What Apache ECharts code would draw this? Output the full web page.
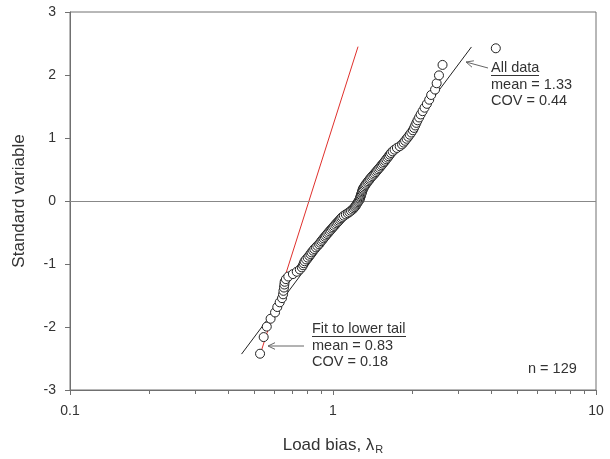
<!DOCTYPE html>
<html>
<head>
<meta charset="utf-8">
<script src="https://cdn.jsdelivr.net/npm/echarts@6/dist/echarts.min.js"></script>
<style>
  html, body { margin: 0; padding: 0; background: #fff; }
  #main { width: 610px; height: 459px; }
</style>
</head>
<body>
<div id="main"></div>
<script>
// standard normal variable of each ranked point (n = 129)
const zScores = [
  -2.424, -2.160, -1.994, -1.869, -1.769, -1.683, -1.608, -1.542, -1.481, -1.426,
  -1.374, -1.326, -1.282, -1.240, -1.199, -1.160, -1.123, -1.087, -1.053, -1.020,
  -0.988, -0.956, -0.927, -0.898, -0.869, -0.842, -0.815, -0.788, -0.762, -0.736,
  -0.711, -0.687, -0.662, -0.638, -0.615, -0.592, -0.569, -0.547, -0.524, -0.503,
  -0.481, -0.459, -0.437, -0.417, -0.396, -0.375, -0.354, -0.334, -0.314, -0.293,
  -0.273, -0.253, -0.233, -0.213, -0.194, -0.175, -0.155, -0.136, -0.116, -0.097,
  -0.077, -0.058, -0.039, -0.019, 0,
  0.019, 0.039, 0.058, 0.077, 0.097, 0.116, 0.136, 0.155, 0.175, 0.194,
  0.213, 0.233, 0.253, 0.273, 0.293, 0.314, 0.334, 0.354, 0.375, 0.396,
  0.417, 0.437, 0.459, 0.481, 0.503, 0.524, 0.547, 0.569, 0.592, 0.615,
  0.638, 0.662, 0.687, 0.711, 0.736, 0.762, 0.788, 0.815, 0.842, 0.869,
  0.898, 0.927, 0.956, 0.988, 1.020, 1.053, 1.087, 1.123, 1.160, 1.199,
  1.240, 1.281, 1.326, 1.374, 1.426, 1.481, 1.542, 1.608, 1.683, 1.769,
  1.869, 1.994, 2.160, 2.424
]
// load bias lambda_R, sorted
const biasValues = [
  0.528, 0.545, 0.560, 0.579, 0.602, 0.614, 0.627, 0.640, 0.646, 0.648,
  0.651, 0.653, 0.655, 0.662, 0.676, 0.704, 0.728, 0.748, 0.761, 0.769,
  0.774, 0.780, 0.790, 0.801, 0.812, 0.821, 0.829, 0.840, 0.849, 0.861,
  0.872, 0.885, 0.894, 0.903, 0.912, 0.921, 0.931, 0.940, 0.950, 0.960,
  0.970, 0.980, 0.990, 1.000, 1.010, 1.021, 1.031, 1.042, 1.053, 1.063,
  1.074, 1.085, 1.100, 1.119, 1.138, 1.154, 1.170, 1.186, 1.198, 1.210,
  1.219, 1.227, 1.235, 1.244, 1.252,
  1.261, 1.265, 1.270, 1.274, 1.278, 1.283, 1.287, 1.292, 1.296, 1.300,
  1.309, 1.318, 1.327, 1.336, 1.350, 1.359, 1.373, 1.383, 1.397, 1.411,
  1.426, 1.440, 1.455, 1.470, 1.485, 1.500, 1.516, 1.531, 1.547, 1.563,
  1.579, 1.595, 1.612, 1.628, 1.645, 1.662, 1.685, 1.714, 1.750, 1.793,
  1.830, 1.855, 1.880, 1.905, 1.932, 1.958, 1.985, 2.012, 2.033, 2.054,
  2.075, 2.096, 2.125, 2.154, 2.191, 2.229, 2.275, 2.322, 2.362, 2.444,
  2.478, 2.529, 2.609, 4.16
]
// fitted lognormal lines, end points [bias, z]
const allDataFit = [[0.449, -2.43], [3.36, 2.445]]
const lowerTailFit = [[0.53, -2.42], [1.245, 2.45]]
const minorTicks = [0.2, 0.3, 0.4, 0.5, 0.6, 0.7, 0.8, 0.9, 2, 3, 4, 5, 6, 7, 8, 9]

const font = '"Liberation Sans", Arial, sans-serif'
const txt = '#333'
const axisGray = '#707070'

const points = biasValues.map((v, i) => [v, zScores[i]])

function label (text, x, y, size) {
  return {
    type: 'text', x: x, y: y, z: 10,
    style: { text: text, fill: txt, font: size + 'px ' + font, verticalAlign: 'middle' }
  }
}
function seg (x1, y1, x2, y2, color) {
  return {
    type: 'line', z: 10,
    shape: { x1: x1, y1: y1, x2: x2, y2: y2 },
    style: { stroke: color, lineWidth: 1 }
  }
}

let myChart = echarts.init(document.getElementById('main'))
myChart.setOption({
  backgroundColor: '#fff',
  animation: false,
  grid: {
    left: 70, right: 14, top: 12, bottom: 69,
    outerBoundsMode: 'none',
    containLabel: false,
    show: true, borderColor: axisGray, borderWidth: 1
  },
  xAxis: [{
    type: 'log',
    logBase: 10,
    min: 0.1,
    max: 10,
    name: '{a|Load bias, λ}{s|R}',
    nameLocation: 'middle',
    nameGap: 44,
    nameTextStyle: {
      rich: {
        a: { fontSize: 17, fontFamily: font, color: txt, lineHeight: 22 },
        s: { fontSize: 11, fontFamily: font, color: txt, padding: [10, 0, 0, 1] }
      }
    },
    axisLine: { onZero: false, lineStyle: { color: axisGray, width: 1 } },
    axisTick: { length: 5, lineStyle: { color: axisGray } },
    axisLabel: { color: txt, fontSize: 14, fontFamily: font, margin: 14 },
    splitLine: { show: false }
  }, {
    // carries only the 2..9 minor ticks of each decade
    type: 'value',
    min: -1,
    max: 1,
    position: 'bottom',
    axisLine: { show: false, onZero: false },
    axisLabel: { show: false },
    axisTick: {
      customValues: minorTicks.map(v => Math.log10(v)),
      length: 4,
      lineStyle: { color: axisGray }
    },
    splitLine: { show: false }
  }],
  yAxis: {
    type: 'value',
    min: -3,
    max: 3,
    interval: 1,
    name: 'Standard variable',
    nameLocation: 'middle',
    nameGap: 42,
    nameTextStyle: { fontSize: 17, fontFamily: font, color: txt },
    axisLine: { show: true, onZero: false, lineStyle: { color: axisGray, width: 1 } },
    axisTick: { show: true, length: 5, lineStyle: { color: axisGray } },
    axisLabel: { color: txt, fontSize: 14, fontFamily: font, margin: 14 },
    splitLine: { show: false }
  },
  series: [
    {
      name: 'zero',
      type: 'line',
      data: [],
      markLine: {
        silent: true,
        symbol: 'none',
        label: { show: false },
        lineStyle: { color: '#888', width: 1, type: 'solid' },
        data: [{ yAxis: 0 }]
      }
    },
    {
      name: 'All data',
      type: 'line',
      data: allDataFit,
      symbol: 'none',
      lineStyle: { color: '#222', width: 1 },
      z: 3
    },
    {
      name: 'Fit to lower tail',
      type: 'line',
      data: lowerTailFit,
      symbol: 'none',
      lineStyle: { color: '#e0302c', width: 1 },
      z: 3
    },
    {
      name: 'points',
      type: 'scatter',
      data: points,
      symbol: 'circle',
      symbolSize: 9,
      itemStyle: { color: '#fff', borderColor: '#222', borderWidth: 1, opacity: 1 },
      z: 5
    }
  ],
  graphic: [
    label('All data', 491, 68, 14.5),
    seg(491, 75.5, 539, 75.5, txt),
    label('mean = 1.33', 491, 85, 14.5),
    label('COV = 0.44', 491, 101, 14.5),
    seg(488, 68, 466, 62, '#666'),
    seg(466, 62, 472, 67.2, '#666'),
    seg(466, 62, 473.9, 60.8, '#666'),
    label('Fit to lower tail', 312, 329, 14.5),
    seg(312, 336.5, 406, 336.5, txt),
    label('mean = 0.83', 312, 346, 14.5),
    label('COV = 0.18', 312, 362, 14.5),
    seg(304, 346, 268, 346, '#666'),
    seg(268, 346, 275, 342.7, '#666'),
    seg(268, 346, 275, 349.3, '#666'),
    label('n = 129', 528, 369, 14.5)
  ]
})
</script>
</body>
</html>
